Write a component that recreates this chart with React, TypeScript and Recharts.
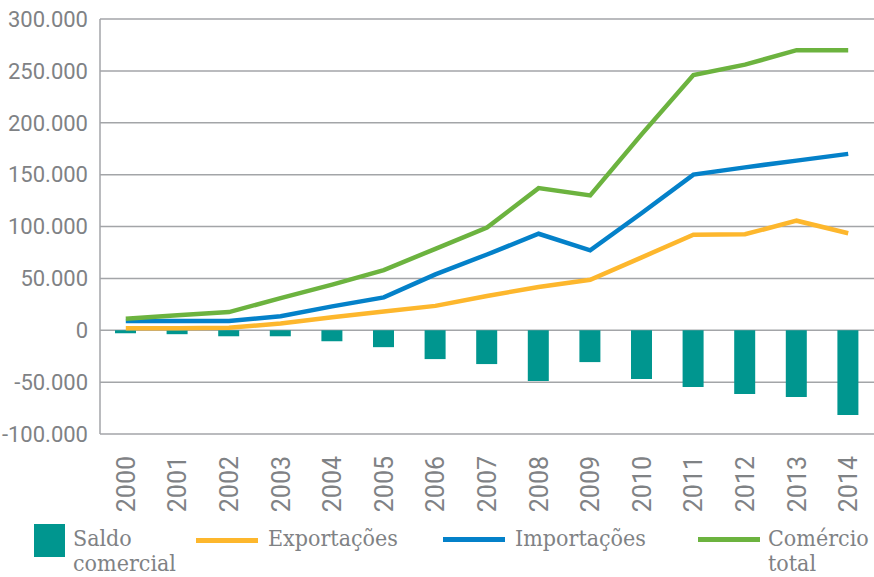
import React from "react";
import { ComposedChart, Bar, Line, XAxis, YAxis, CartesianGrid } from "recharts";

const years = ["2000","2001","2002","2003","2004","2005","2006","2007","2008","2009","2010","2011","2012","2013","2014"];
const saldo = [-2900,-3800,-5800,-5800,-10600,-16300,-27800,-32600,-49000,-30700,-47000,-54700,-61400,-64300,-81600];
const exportacoes = [2000,2000,2500,6500,12500,18000,23500,33000,41700,48700,70300,92000,92500,105600,93500];
const importacoes = [9000,9000,9000,13500,23000,31700,53900,73000,93000,77000,113000,150000,157000,163500,170000];
const comercio = [11000,14500,17500,31000,44000,58000,78500,99000,137000,130000,189000,246000,256000,270000,270000];
const yTicks = [-100000,-50000,0,50000,100000,150000,200000,250000,300000];

const data = years.map((y, i) => ({
  year: y,
  saldo: saldo[i],
  exp: exportacoes[i],
  imp: importacoes[i],
  tot: comercio[i],
}));

const TEAL = "#00968f";
const YELLOW = "#fdb72d";
const BLUE = "#0481c9";
const GREEN = "#6cb33f";
const GRAY = "#7f8285";
const GRID = "#a3a5a8";

const fmt = (v: number) => {
  const s = Math.abs(v).toString().replace(/\B(?=(\d{3})+(?!\d))/g, ".");
  return (v < 0 ? "-" : "") + s;
};

const XTick = (props: any) => {
  const { x, y, payload } = props;
  return (
    <text
      x={x + 9}
      y={y + 14}
      transform={`rotate(-90, ${x + 9}, ${y + 14})`}
      textAnchor="end"
      fill={GRAY}
      fontSize={25}
      fontFamily="Roboto, 'Noto Sans', sans-serif"
    >
      {payload.value}
    </text>
  );
};

const legendFont: React.CSSProperties = {
  fontFamily: "'DejaVu Serif', serif",
  fontStretch: "condensed",
  fontSize: 23,
  color: GRAY,
  lineHeight: "25px",
  position: "absolute",
  whiteSpace: "nowrap",
};

export default function App() {
  return (
    <div style={{ position: "absolute", left: 0, top: 0, width: 874, height: 577, background: "#fff" }}>
      <ComposedChart
        width={874}
        height={577}
        data={data}
        margin={{ top: 19, right: 0, bottom: 143 - 83, left: 0 }}
      >
        <CartesianGrid vertical={false} stroke={GRID} strokeWidth={1.5} />
        <XAxis
          dataKey="year"
          height={83}
          tick={<XTick />}
          tickLine={false}
          axisLine={false}
          interval={0}
        />
        <YAxis
          width={100}
          domain={[-100000, 300000]}
          ticks={yTicks}
          tickFormatter={fmt}
          tickLine={false}
          tickSize={0}
          tickMargin={12}
          axisLine={{ stroke: GRID, strokeWidth: 1.5 }}
          tick={{ fill: GRAY, fontSize: 22, fontFamily: "Roboto, 'Noto Sans', sans-serif" }}
          interval={0}
        />
        <Bar dataKey="saldo" fill={TEAL} barSize={21} isAnimationActive={false} />
        <Line dataKey="exp" stroke={YELLOW} strokeWidth={4.5} dot={false} isAnimationActive={false} />
        <Line dataKey="imp" stroke={BLUE} strokeWidth={4.5} dot={false} isAnimationActive={false} />
        <Line dataKey="tot" stroke={GREEN} strokeWidth={4.5} dot={false} isAnimationActive={false} />
      </ComposedChart>
      <div style={{ position: "absolute", left: 34, top: 524, width: 31, height: 33, background: TEAL }} />
      <div style={{ ...legendFont, left: 73, top: 526 }}>Saldo<br />comercial</div>
      <div style={{ position: "absolute", left: 196, top: 538, width: 62, height: 5, background: YELLOW }} />
      <div style={{ ...legendFont, left: 268, top: 526 }}>Exportações</div>
      <div style={{ position: "absolute", left: 443, top: 537, width: 62, height: 5, background: BLUE }} />
      <div style={{ ...legendFont, left: 515, top: 526 }}>Importações</div>
      <div style={{ position: "absolute", left: 698, top: 537, width: 62, height: 5, background: GREEN }} />
      <div style={{ ...legendFont, left: 768, top: 526 }}>Comércio<br />total</div>
    </div>
  );
}
